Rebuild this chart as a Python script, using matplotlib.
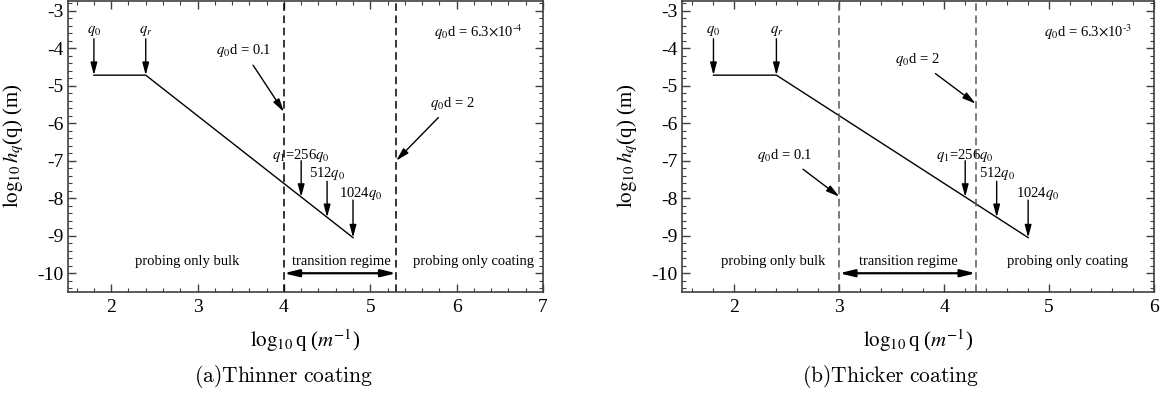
import numpy as np
import matplotlib
matplotlib.use('Agg')
import matplotlib.pyplot as plt
from matplotlib.ticker import MultipleLocator

plt.rcParams['font.family'] = ['Liberation Serif', 'DejaVu Serif']
plt.rcParams['mathtext.fontset'] = 'stix'
plt.rcParams['axes.unicode_minus'] = False

# PSD-like roughness profile (log10 q vs log10 h_q), same in both panels
q_break = [1.8, 2.4, 4.8]
h_break = [-4.72, -4.72, -9.05]

# marked wavevectors
q_marks = [1.8, 2.4, 4.2, 4.5, 4.8]
q_mark_labels = [r'$q_0$', r'$q_r$', r'$q_1$=256$q_0$', r'512$q_0$', r'1024$q_0$']

# panel settings
panels = [
    dict(xmax=7, bounds=[4.0, 5.3], q0d=r'$q_0$d = 6.3$\times$10$^{\text{-}4}$',
         caption=r'$\mathrm{(a)Thinner\ coating}$', dash_color='k'),
    dict(xmax=6, bounds=[3.0, 4.3], q0d=r'$q_0$d = 6.3$\times$10$^{\text{-}3}$',
         caption=r'$\mathrm{(b)Thicker\ coating}$', dash_color='0.35'),
]
# where the "q0d = 0.1" and "q0d = 2" arrows point to, and their text positions
bound_tip_y = [[-5.70, -7.00], [-7.96, -5.48]]
bound_text_xy = [[(3.53, -4.06), (5.95, -5.47)], [(2.48, -6.86), (3.74, -4.31)]]
bound_labels = [r'$q_0$d = 0.1', r'$q_0$d = 2']
q0d_text_x = [6.25, 5.37]
region_text_x = [[2.88, 4.67, 6.19], [2.37, 3.66, 5.18]]
region_labels = ['probing only bulk', 'transition regime', 'probing only coating']

# vertical arrow start (below label) and label heights
arrow_start_y = [-3.75, -3.75, -7.0, -7.55, -8.05]
label_y = [-3.55, -3.55, -6.86, -7.35, -7.87]
label_dx = [0, 0, 0, 0, 0.09]

W, H = 1166, 395
fig = plt.figure(figsize=(W / 100, H / 100), dpi=100)
ax_rects = [[68 / W, 1 - 292 / H, 475 / W, 291.5 / H],
            [682 / W, 1 - 292 / H, 472 / W, 291.5 / H]]
caption_x = [283 / W, 891 / W]

arrow_kw = dict(arrowstyle='-|>,head_length=0.75,head_width=0.2', color='k', lw=1.0,
                shrinkA=0, shrinkB=0)

for i, p in enumerate(panels):
    ax = fig.add_axes(ax_rects[i])
    ax.plot(q_break, h_break, color='k', lw=1.0)
    ax.set_xlim(1.5, p['xmax'])
    ax.set_ylim(-10.5, -2.73)

    for b in p['bounds']:
        ax.axvline(b, color=p['dash_color'], lw=1.1, ls=(0, (5, 3)))

    # vertical arrows to the line
    for j, qm in enumerate(q_marks):
        tip = np.interp(qm, q_break, h_break)
        ax.annotate('', xy=(qm, tip), xytext=(qm, arrow_start_y[j]), arrowprops=arrow_kw)
        ax.text(qm + label_dx[j], label_y[j], q_mark_labels[j], ha='center', va='center',
                fontsize=10.5)

    # q0 d = 0.1 / 2 arrows
    for j, b in enumerate(p['bounds']):
        ax.annotate(bound_labels[j], xy=(b, bound_tip_y[i][j]), xytext=bound_text_xy[i][j],
                    ha='center', va='center', fontsize=10.5,
                    arrowprops=dict(arrowstyle='-|>,head_length=0.75,head_width=0.2',
                                    color='k', lw=1.0, shrinkA=3, shrinkB=0))

    ax.text(q0d_text_x[i], -3.58, p['q0d'], ha='center', va='center', fontsize=10.5)

    # regime labels
    for j, lab in enumerate(region_labels):
        ax.text(region_text_x[i][j], -9.69, lab, ha='center', va='center', fontsize=10.5)
    ax.annotate('', xy=(p['bounds'][0], -10), xytext=(p['bounds'][1], -10),
                arrowprops=dict(arrowstyle='<|-|>,head_length=0.9,head_width=0.22',
                                color='k', lw=1.6, shrinkA=0, shrinkB=0))

    ax.xaxis.set_major_locator(MultipleLocator(1))
    ax.xaxis.set_minor_locator(MultipleLocator(0.2))
    ax.yaxis.set_major_locator(MultipleLocator(1))
    ax.yaxis.set_minor_locator(MultipleLocator(0.2))
    ax.tick_params(which='both', direction='in', top=True, right=True, labelsize=14,
                   color='0.25')
    ax.tick_params(which='major', length=6, width=1.0)
    ax.tick_params(axis='x', which='major', pad=5)
    ax.tick_params(which='minor', length=3, width=0.8)
    for s in ax.spines.values():
        s.set_color('0.25')
        s.set_linewidth(1.2)

    ax.set_xlabel(r'$\log_{10}$q ($m^{-1}$)', fontsize=15, labelpad=8)
    ax.set_ylabel(r'$\log_{10} h_q$(q) (m)', fontsize=15)
    ax.yaxis.set_label_coords(-0.088, 0.5)
    fig.text(caption_x[i], 1 - 377 / H, p['caption'], ha='center', va='center',
             fontsize=15.5, math_fontfamily='cm')

fig.savefig('out.png', dpi=100)
